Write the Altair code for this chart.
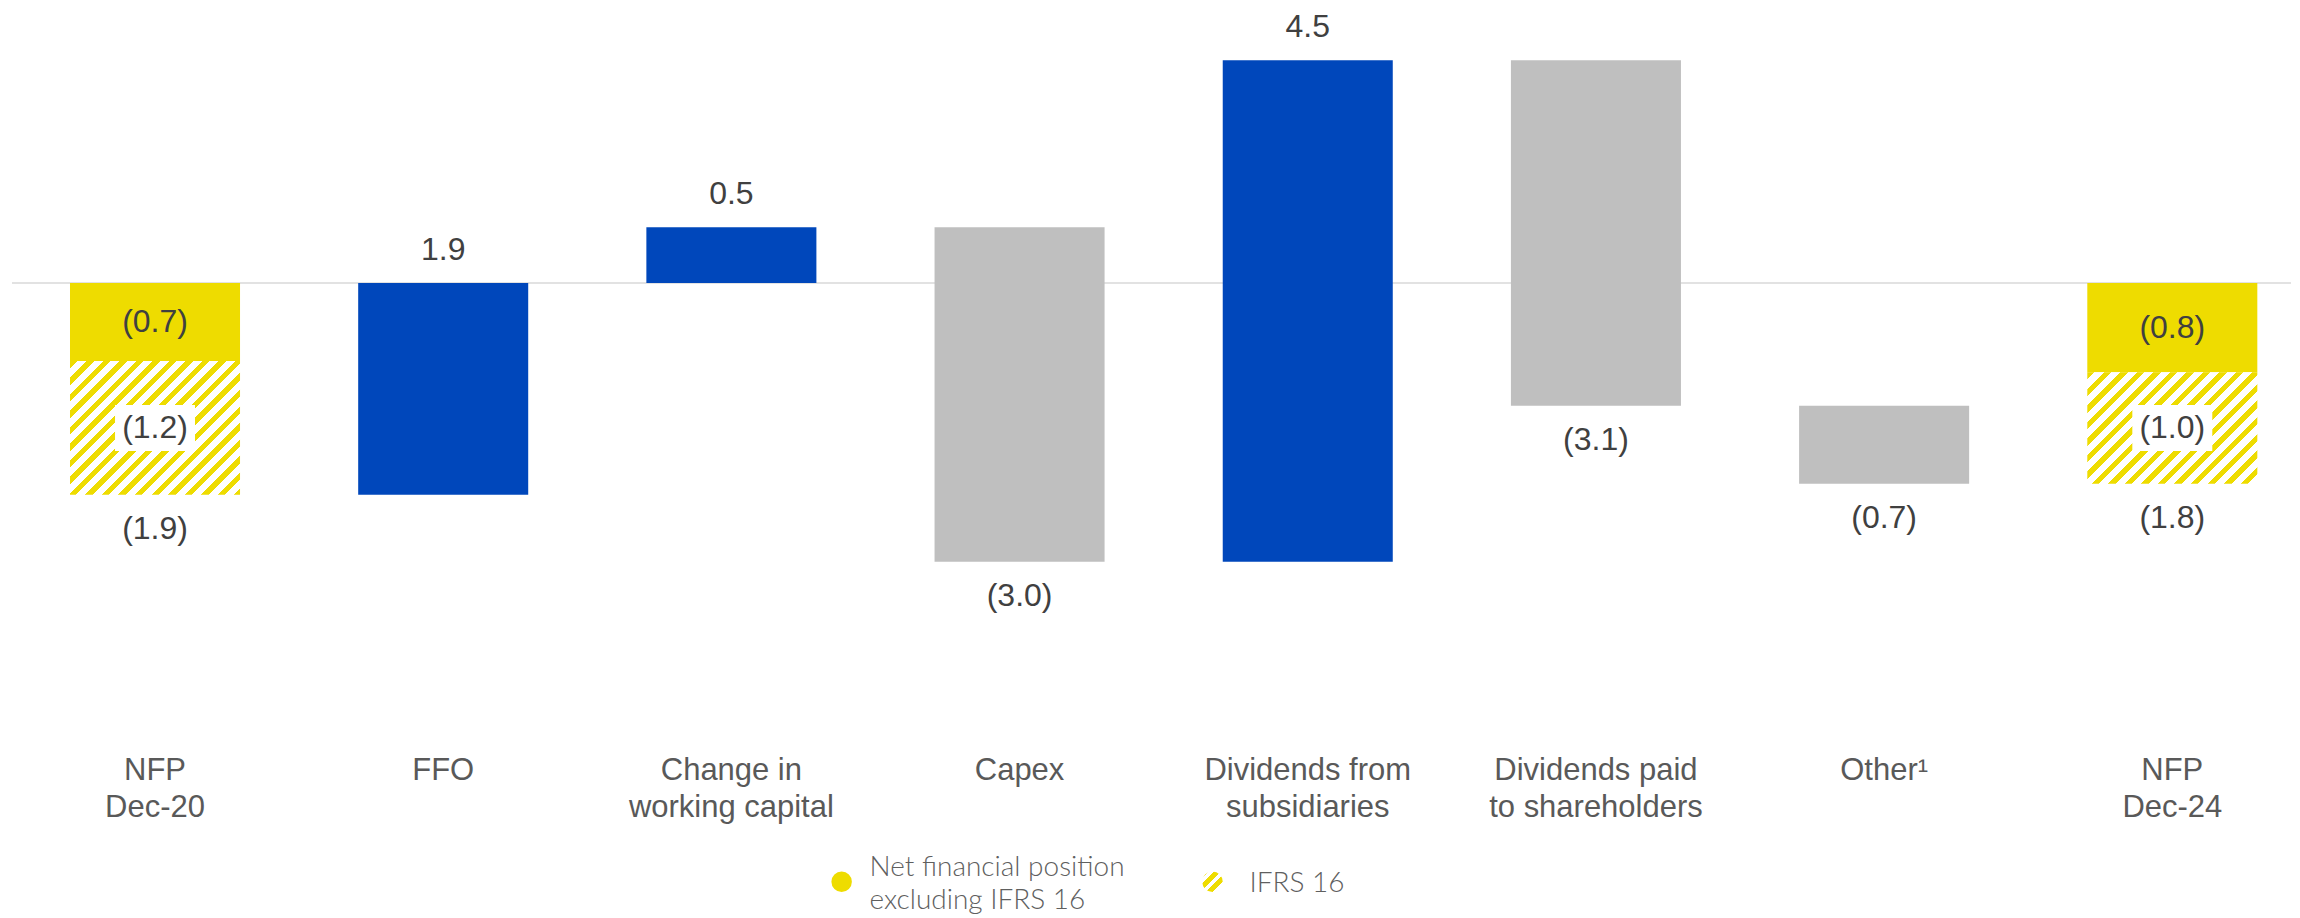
import math
import altair as alt
import pandas as pd

# ---------------- data ----------------
categories = ["NFP|Dec-20", "FFO", "Change in|working capital", "Capex",
              "Dividends from|subsidiaries", "Dividends paid|to shareholders",
              "Other¹", "NFP|Dec-24"]
start_excl_ifrs = -0.7     # NFP Dec-20 excluding IFRS 16
start_ifrs = -1.2          # NFP Dec-20 IFRS 16
flow_values = [1.9, 0.5, -3.0, 4.5, -3.1, -0.7]
flow_kind = ["in", "in", "out", "in", "out", "out"]
end_excl_ifrs = -0.8       # NFP Dec-24 excluding IFRS 16
end_ifrs = -1.0            # NFP Dec-24 IFRS 16
legend_labels = ["Net financial position|excluding IFRS 16", "IFRS 16"]

# ---------------- style ----------------
BLUE = "#0047BB"
GRAY = "#BFBFBF"
YELLOW = "#EEDC00"
W, H = 2284, 732
Y_DOMAIN = [-4.099, 2.466]
P_INNER, P_OUTER, ALIGN = 0.41, 0.166, 0.648
FONT = "Liberation Sans"


def fmt(v):
    s = f"{abs(v):.1f}"
    return f"({s})" if v < 0 else s


# ---------------- tables ----------------
bars, labels = [], []
first, last = categories[0], categories[-1]
tot0 = round(start_excl_ifrs + start_ifrs, 2)
bars.append(dict(cat=first, y0=0, y1=start_excl_ifrs, kind="excl"))
bars.append(dict(cat=first, y0=start_excl_ifrs, y1=tot0, kind="ifrs"))
labels += [dict(cat=first, y=start_excl_ifrs / 2, text=fmt(start_excl_ifrs), pos="inside"),
           dict(cat=first, y=(start_excl_ifrs + tot0) / 2, text=fmt(start_ifrs), pos="box"),
           dict(cat=first, y=tot0, text=fmt(tot0), pos="below")]
run = tot0
for c, v, k in zip(categories[1:-1], flow_values, flow_kind):
    nxt = round(run + v, 2)
    bars.append(dict(cat=c, y0=run, y1=nxt, kind=k))
    if v >= 0:
        labels.append(dict(cat=c, y=max(run, nxt), text=fmt(v), pos="above"))
    else:
        labels.append(dict(cat=c, y=min(run, nxt), text=fmt(v), pos="below"))
    run = nxt
tot1 = round(end_excl_ifrs + end_ifrs, 2)
bars.append(dict(cat=last, y0=0, y1=end_excl_ifrs, kind="excl"))
bars.append(dict(cat=last, y0=end_excl_ifrs, y1=tot1, kind="ifrs"))
labels += [dict(cat=last, y=end_excl_ifrs / 2, text=fmt(end_excl_ifrs), pos="inside"),
           dict(cat=last, y=(end_excl_ifrs + tot1) / 2, text=fmt(end_ifrs), pos="box"),
           dict(cat=last, y=tot1, text=fmt(tot1), pos="below")]

bars_df = pd.DataFrame(bars)
labels_df = pd.DataFrame(labels)

# ---------------- hatch gradient ----------------
step = W / (len(categories) - P_INNER + 2 * P_OUTER)
bar_w = step * (1 - P_INNER)
px_per_unit = H / (Y_DOMAIN[1] - Y_DOMAIN[0])


def hatch(w, h, period=11.7, duty=0.45):
    k = h / w
    a = (1 + k) / (1 + k * k)
    b = a * k
    D = (w + h) / math.sqrt(2)
    dt = period / D
    stops = []
    t = 0.0
    while t < 1:
        t1 = min(t + duty * dt, 1)
        t2 = min(t + dt, 1)
        stops += [(t, YELLOW), (t1, YELLOW), (t1, "white"), (t2, "white")]
        t += dt
    return alt.LinearGradient(
        gradient="linear", x1=0, y1=0, x2=a, y2=b,
        stops=[alt.GradientStop(offset=round(o, 5), color=c) for o, c in stops])


x_enc = alt.X("cat:N", sort=categories,
              scale=alt.Scale(domain=categories, paddingInner=P_INNER,
                              paddingOuter=P_OUTER, align=ALIGN),
              axis=alt.Axis(title=None, domain=False, ticks=False, grid=False,
                            labelAngle=0, labelFont=FONT, labelFontSize=31,
                            labelColor="#595959", labelPadding=16,
                            labelLineHeight=37, labelLimit=500,
                            labelOverlap=False,
                            labelExpr="split(datum.label, '|')"))
y_scale = alt.Scale(domain=Y_DOMAIN, nice=False, zero=False)

base = alt.Chart(bars_df)

zero_rule = alt.Chart(pd.DataFrame({"v": [0]})).mark_rule(
    color="#D9D9D9", strokeWidth=1.5).encode(
    y=alt.Y("v:Q", scale=y_scale, axis=None),
    x=alt.value(4), x2=alt.value(W))

solid = base.transform_filter(alt.datum.kind != "ifrs").mark_bar().encode(
    x=x_enc,
    y=alt.Y("y0:Q", scale=y_scale, axis=None), y2="y1:Q",
    color=alt.Color("kind:N", scale=alt.Scale(domain=["in", "out", "excl"],
                                              range=[BLUE, GRAY, YELLOW]),
                    legend=None))

hatched_layers = []
for c, a_val in [(first, start_ifrs), (last, end_ifrs)]:
    h_px = abs(a_val) * px_per_unit
    hatched_layers.append(
        base.transform_filter((alt.datum.kind == "ifrs") & (alt.datum.cat == c))
        .mark_bar(fill=hatch(bar_w, h_px), stroke=None)
        .encode(x=x_enc, y=alt.Y("y0:Q", scale=y_scale, axis=None), y2="y1:Q"))

lab = alt.Chart(labels_df)
box_shape = "M-1,-0.575L1,-0.575L1,0.575L-1,0.575Z"
boxes = lab.transform_filter(alt.datum.pos == "box").mark_point(
    shape=box_shape, filled=True, fill="white", opacity=1, strokeWidth=0,
    size=6400).encode(x=x_enc, y=alt.Y("y:Q", scale=y_scale, axis=None))


def text_layer(pos, dy):
    return lab.transform_filter(alt.datum.pos == pos).mark_text(
        font=FONT, fontSize=32, color="#404040", baseline="middle", dy=dy
    ).encode(x=x_enc, y=alt.Y("y:Q", scale=y_scale, axis=None), text="text:N")


t_above = text_layer("above", -33)
t_below = text_layer("below", 34)
t_inside = lab.transform_filter(
    (alt.datum.pos == "inside") | (alt.datum.pos == "box")).mark_text(
    font=FONT, fontSize=32, color="#404040", baseline="middle"
).encode(x=x_enc, y=alt.Y("y:Q", scale=y_scale, axis=None), text="text:N")

# ---------------- legend ----------------
leg_df = pd.DataFrame({"label": legend_labels})
LEG_FONT = "Lato"
leg_sym1 = alt.Chart(leg_df.iloc[[0]]).mark_point(
    shape="circle", filled=True, fill=YELLOW, opacity=1, size=420, strokeWidth=0
).encode(x=alt.value(834), y=alt.value(874))
leg_txt1 = alt.Chart(leg_df.iloc[[0]]).mark_text(
    font=LEG_FONT, fontWeight=300, fontSize=28, color="#5f5f5f", align="left",
    baseline="alphabetic", lineBreak="|", lineHeight=33
).encode(x=alt.value(862), y=alt.value(868), text="label:N")
leg_sym2 = alt.Chart(leg_df.iloc[[1]]).mark_point(
    shape="circle", filled=True, fill=hatch(23, 23, period=9.5, duty=0.6),
    opacity=1, size=420, strokeWidth=0
).encode(x=alt.value(1205), y=alt.value(874))
leg_txt2 = alt.Chart(leg_df.iloc[[1]]).mark_text(
    font=LEG_FONT, fontWeight=300, fontSize=28, color="#5f5f5f", align="left",
    baseline="alphabetic"
).encode(x=alt.value(1242), y=alt.value(884), text="label:N")

chart = alt.layer(
    zero_rule, solid, *hatched_layers, boxes, t_above, t_below, t_inside,
    leg_sym1, leg_txt1, leg_sym2, leg_txt2
).properties(width=W, height=H, padding=0).configure_view(stroke=None)

chart.save("out.html", embed_options={"renderer": "svg", "actions": False})
